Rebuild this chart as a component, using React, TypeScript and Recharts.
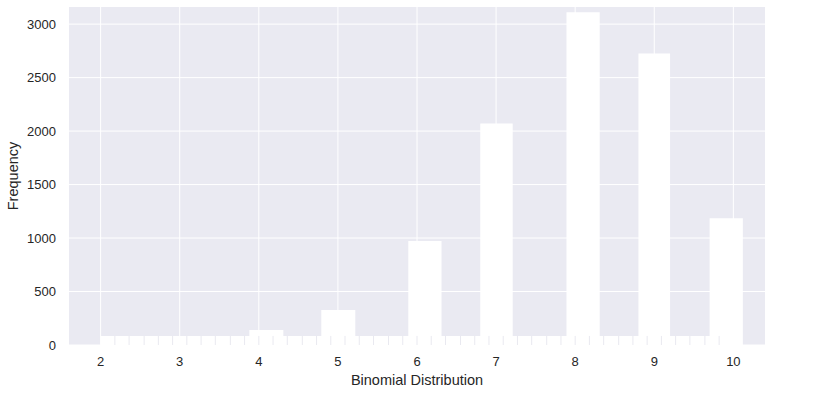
import { ComposedChart, Area, Line, XAxis, YAxis, CartesianGrid } from "recharts";

// histogram bars (bin edges in x units, counts)
const barLeft = [3.88, 4.79, 5.89, 6.8, 7.89, 8.8, 9.7];
const barRight = [4.31, 5.22, 6.31, 7.21, 8.31, 9.2, 10.12];
const barCounts = [140, 327, 972, 2072, 3112, 2726, 1184];

// low white band along the bottom and its faint slice edges
const bandX = [2, 10];
const bandCount = 85;
const bandEdges = [
  2.18, 2.36, 2.55, 2.73, 2.91, 3.09, 3.27, 3.45, 3.64, 3.82, 4.0, 4.18, 4.36, 4.55,
  4.73, 4.91, 5.09, 5.27, 5.45, 5.64, 5.82, 6.0, 6.18, 6.36, 6.55, 6.73, 6.91, 7.09,
  7.27, 7.45, 7.64, 7.82, 8.0, 8.18, 8.36, 8.55, 8.73, 8.91, 9.09, 9.27, 9.45, 9.64, 9.82,
];

const xTicks = [2, 3, 4, 5, 6, 7, 8, 9, 10];
const yTicks = [0, 500, 1000, 1500, 2000, 2500, 3000];

const histData = barLeft.flatMap((l, i) => [
  { x: l, count: barCounts[i] },
  { x: barRight[i], count: 0 },
]);
const bandData = bandX.map((x) => ({ x, count: bandCount }));
const edgeData = bandEdges.flatMap((x) => [
  { x, count: 0 },
  { x, count: bandCount },
  { x, count: null },
]);

const font = "'Liberation Sans', Arial, sans-serif";
const tickStyle = { fontSize: 13, fill: "#262626", fontFamily: font };
const labelStyle = { fontSize: 14.5, fill: "#262626", fontFamily: font };

export default function App() {
  return (
    <div style={{ position: "absolute", left: 0, top: 0 }}>
      <ComposedChart width={816} height={399} margin={{ top: 7, right: 51, left: 9, bottom: 0 }}>
        <CartesianGrid fill="#EAEAF2" stroke="#ffffff" strokeWidth={1} horizontalValues={yTicks} verticalValues={xTicks} />
        <XAxis
          type="number"
          dataKey="x"
          domain={[1.6, 10.4]}
          ticks={xTicks}
          allowDataOverflow
          axisLine={false}
          tickLine={false}
          tickSize={0}
          tickMargin={12}
          height={54}
          tick={tickStyle}
          label={{ value: "Binomial Distribution", position: "center", dy: 8, style: labelStyle }}
        />
        <YAxis
          type="number"
          domain={[0, 3160]}
          ticks={yTicks}
          allowDataOverflow
          axisLine={false}
          tickLine={false}
          tickSize={0}
          tickMargin={13}
          width={60}
          tick={tickStyle}
          label={{ value: "Frequency", angle: -90, position: "center", dx: -26, style: labelStyle }}
        />
        <Area data={bandData} dataKey="count" type="linear" fill="#ffffff" fillOpacity={1} stroke="none" isAnimationActive={false} />
        <Line data={edgeData} dataKey="count" stroke="#e9e9f0" strokeWidth={1} dot={false} connectNulls={false} isAnimationActive={false} />
        <Area data={histData} dataKey="count" type="stepAfter" fill="#ffffff" fillOpacity={1} stroke="none" isAnimationActive={false} />
      </ComposedChart>
    </div>
  );
}
